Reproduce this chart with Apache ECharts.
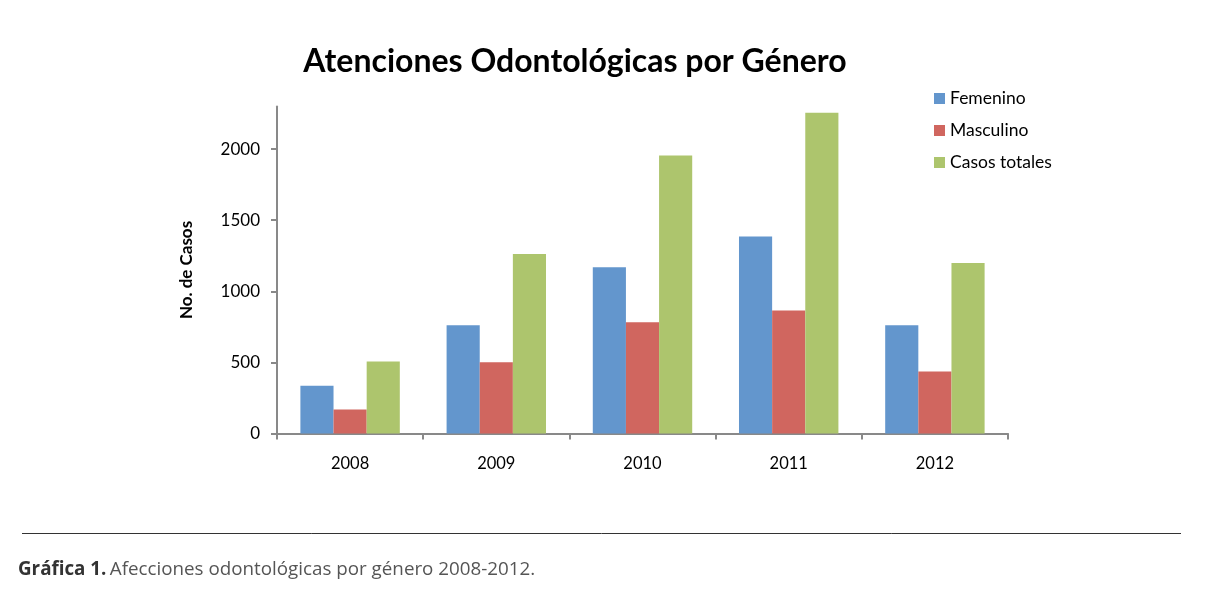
<!DOCTYPE html>
<html>
<head>
<meta charset="utf-8">
<script src="https://cdn.jsdelivr.net/npm/echarts@6/dist/echarts.min.js"></script>
<style>
html,body{margin:0;padding:0;background:#fff;}
#c{width:1211px;height:596px;}
</style>
</head>
<body>
<div id="c"></div>
<script>
const categories = ['2008', '2009', '2010', '2011', '2012'];
const femenino = [335, 762, 1170, 1386, 762];
const masculino = [169, 501, 783, 865, 436];
const casosTotales = [506, 1262, 1956, 2256, 1200];
const yTicks = [0, 500, 1000, 1500, 2000];

const chart = echarts.init(document.getElementById('c'));
const font = 'Lato, "Open Sans", sans-serif';
chart.setOption({
  animation: false,
  backgroundColor: '#fff',
  title: {
    text: 'Atenciones Odontológicas por Género',
    left: 570, textAlign: 'center', top: 41,
    textStyle: { fontFamily: font, fontSize: 32, fontWeight: 'bold', color: '#000' }
  },
  legend: {
    orient: 'vertical', left: 934, top: 89, padding: 0,
    itemWidth: 11, itemHeight: 11, itemGap: 13,
    icon: 'rect',
    textStyle: { fontFamily: font, fontSize: 17.5, color: '#000', lineHeight: 19 },
    data: ['Femenino', 'Masculino', 'Casos totales']
  },
  grid: { left: 277, right: 203, top: 106.5, bottom: 162.5 },
  xAxis: {
    type: 'category', data: categories,
    axisLine: { lineStyle: { color: '#898989', width: 2 } },
    axisTick: { show: true, length: 6, lineStyle: { color: '#898989', width: 2 } },
    axisLabel: { fontFamily: font, fontSize: 16.5, color: '#000', margin: 22 }
  },
  yAxis: {
    type: 'value', min: 0, max: 2300, interval: 500,
    name: 'No. de Casos', nameLocation: 'middle', nameRotate: 90, nameGap: 82,
    nameTextStyle: { fontFamily: font, fontSize: 17, fontWeight: 'bold', color: '#000' },
    axisLine: { show: true, lineStyle: { color: '#898989', width: 2 } },
    axisTick: { show: true, length: 6, lineStyle: { color: '#898989', width: 2 } },
    axisLabel: {
      fontFamily: font, fontSize: 17, color: '#000', margin: 17, showMaxLabel: false,
      formatter: v => yTicks.includes(v) ? String(v) : ''
    },
    splitLine: { show: false }
  },
  series: [
    { name: 'Femenino', type: 'bar', data: femenino, barGap: '0%', barCategoryGap: '32%',
      itemStyle: { color: '#6396CD' } },
    { name: 'Masculino', type: 'bar', data: masculino,
      itemStyle: { color: '#D0665F' } },
    { name: 'Casos totales', type: 'bar', data: casosTotales,
      itemStyle: { color: '#ADC56D' } }
  ],
  graphic: [
    { type: 'line', shape: { x1: 22, y1: 533.5, x2: 1181, y2: 533.5 },
      style: { stroke: '#333', lineWidth: 1 } },
    { type: 'text', left: 18, top: 560,
      style: {
        text: '{b|Gráfica 1.} {n|Afecciones odontológicas por género 2008-2012.}',
        rich: {
          b: { fontFamily: '"Open Sans", sans-serif', fontSize: 18.8, fontWeight: 'bold', fill: '#333' },
          n: { fontFamily: '"Open Sans", sans-serif', fontSize: 18.8, fill: '#555' }
        }
      } }
  ]
});
</script>
</body>
</html>
